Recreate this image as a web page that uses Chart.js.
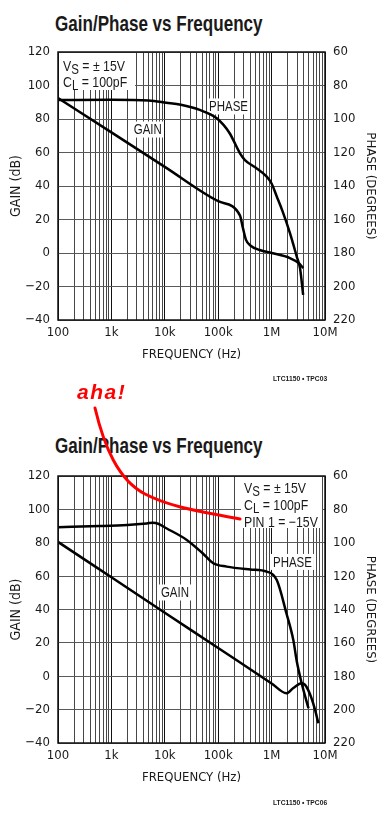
<!DOCTYPE html>
<html>
<head>
<meta charset="utf-8">
<script src="https://cdn.jsdelivr.net/npm/chart.js@4/dist/chart.umd.min.js"></script>
<style>
  html, body { margin: 0; padding: 0; background: #fff; }
  body { width: 385px; height: 816px; position: relative; overflow: hidden;
         font-family: "Liberation Sans", Arial, sans-serif; color: #1a1a1a; }
  canvas { position: absolute; left: 0; }
  .narrow { display: inline-block; transform-origin: 0 0; white-space: nowrap; }
  .title { position: absolute; left: 55px; font-weight: bold; font-size: 22px; line-height: 22px; transform: scaleX(0.775); }
  .box { position: absolute; background: #fff; }
  .box .narrow { font-size: 15px; transform: scaleX(0.82); }
  .box sub { font-size: 14px; vertical-align: -3px; line-height: 0; }
  .foot { position: absolute; left: 273px; font-weight: bold; font-size: 8px; line-height: 8px; transform: scaleX(0.84); }
  #aha { position: absolute; left: 77px; top: 381px; color: #f00; font: italic bold 21px/21px "Liberation Sans", Arial, sans-serif; letter-spacing: 1.5px; }
  svg { position: absolute; left: 0; top: 0; }
</style>
</head>
<body>
<div class="title narrow" style="top:13px">Gain/Phase vs Frequency</div>
<canvas id="top" width="385" height="390" style="top:0"></canvas>
<div class="box" style="left:59px; top:53px; width:76px; height:37px;">
  <div class="narrow" style="margin:5px 0 0 4px; line-height:15.5px;">V<sub>S</sub> = ± 15V<br>C<sub>L</sub> = 100pF</div>
</div>
<div class="foot narrow" style="top:375px">LTC1150 • TPC03</div>

<div class="title narrow" style="top:435px">Gain/Phase vs Frequency</div>
<canvas id="bottom" width="385" height="416" style="top:400px"></canvas>
<div class="box" style="left:241px; top:477px; width:81px; height:51px;">
  <div class="narrow" style="margin:2px 0 0 3px; line-height:17px;">V<sub>S</sub> = ± 15V<br>C<sub>L</sub> = 100pF<br>PIN 1 = −15V</div>
</div>
<div class="foot narrow" style="top:799px">LTC1150 • TPC06</div>

<div id="aha">aha!</div>
<svg width="385" height="816">
  <path d="M95,408 C104,446 118,480 145,494 S205,512 240,519" fill="none" stroke="#f00" stroke-width="3" stroke-linecap="round"/>
</svg>

<script>
// frequency axis
const decades = [100, 1e3, 1e4, 1e5, 1e6, 1e7];
const freqTickLabels = ['100', '1k', '10k', '100k', '1M', '10M'];
const gainTicks = [-40, -20, 0, 20, 40, 60, 80, 100, 120];
const phaseTicks = [60, 80, 100, 120, 140, 160, 180, 200, 220];

// top chart (TPC03)
const topGainFreq = [100, 1e3, 1e4, 1e5, 2.55e5, 2.9e5, 3.3e5, 4e5, 6e5, 1e6, 2.2e6, 3.2e6, 3.9e6];
const topGain     = [92.5, 72, 51.4, 30.9, 22.5, 15, 8, 4.5, 1.8, 0, -3, -6, -9];
const topPhaseFreq = [100, 1e3, 5e3, 1.07e4, 2e4, 4.5e4, 9.4e4, 1.64e5, 1.91e5, 2.56e5, 3.17e5, 5e5, 8.1e5, 1e6, 1.24e6, 1.6e6, 2.2e6, 2.95e6, 3.4e6, 3.9e6];
const topPhase     = [88.7, 88.5, 89, 90.3, 91.5, 94.6, 99.6, 108.5, 112.5, 120.5, 124.5, 129, 134.4, 138.5, 146, 155, 168, 182, 189, 205];

// bottom chart (TPC06, pin 1 = -15V)
const botGainFreq = [100, 1e3, 1e4, 1e5, 1e6, 1.9e6, 2.55e6, 3.66e6, 4.2e6, 4.8e6, 5.5e6, 6.5e6, 7.5e6];
const botGain     = [80.5, 59.3, 38.1, 16.9, -4.3, -10.2, -7, -4.2, -5, -8, -12.5, -20, -28.2];
const botPhaseFreq = [100, 600, 2e3, 4.6e3, 6e3, 7.5e3, 1.07e4, 2.58e4, 5e4, 8.1e4, 1.44e5, 4e5, 8.1e5, 1.25e6, 1.9e6, 2.55e6, 2.96e6, 3.66e6, 4.9e6];
const botPhase     = [90.7, 90, 89.3, 88.4, 88, 88.6, 91.3, 98.3, 106, 112.3, 114.3, 116, 117.3, 122.3, 142.4, 158.3, 171, 184.2, 199.2];

const FONT = '"DejaVu Sans Condensed", "Liberation Sans", sans-serif';
const INK = '#1a1a1a';

// every 1..9 step per decade for the grid
const gridFreqs = [];
decades.slice(0, -1).forEach(d => { for (let m = 1; m < 10; m++) gridFreqs.push(d * m); });
gridFreqs.push(1e7);

const pts = (xs, ys) => xs.map((x, i) => ({x, y: ys[i]}));
const minus = v => v < 0 ? '\u2212' + Math.abs(v) : String(v);

const framePlugin = {
  id: 'frame',
  beforeDatasetsDraw(chart, args, opts) {
    const ctx = chart.ctx, xs = chart.scales.x, ys = chart.scales.y;
    ctx.save();
    ctx.font = '14px "Liberation Sans", Arial, sans-serif';
    ctx.textAlign = 'center';
    ctx.textBaseline = 'middle';
    opts.labels.forEach(l => {
      const px = xs.getPixelForValue(l.f), py = ys.getPixelForValue(l.db);
      const w = ctx.measureText(l.text).width * 0.82;
      ctx.fillStyle = '#fff';
      ctx.fillRect(px - w / 2 - 2, py - 8, w + 4, 16);
      ctx.save();
      ctx.translate(px, py + 1);
      ctx.scale(0.82, 1);
      ctx.fillStyle = INK;
      ctx.fillText(l.text, 0, 0);
      ctx.restore();
    });
    ctx.restore();
  },
  afterDraw(chart) {
    const ctx = chart.ctx, a = chart.chartArea;
    ctx.save();
    ctx.strokeStyle = '#111';
    ctx.lineWidth = 1.5;
    ctx.strokeRect(a.left, a.top, a.right - a.left, a.bottom - a.top);
    ctx.restore();
  }
};

function makeChart(id, gain, phase, labels, padTop, padBottom) {
  const line = {borderColor: '#000', borderWidth: 2.5, pointRadius: 0, cubicInterpolationMode: 'monotone', fill: false};
  return new Chart(document.getElementById(id), {
    type: 'line',
    data: {datasets: [
      Object.assign({label: 'GAIN', data: gain, yAxisID: 'y'}, line),
      Object.assign({label: 'PHASE', data: phase, yAxisID: 'y2'}, line)
    ]},
    plugins: [framePlugin],
    options: {
      responsive: false,
      animation: false,
      events: [],
      layout: {padding: {top: padTop, bottom: padBottom, left: 0, right: 0}},
      plugins: {legend: {display: false}, tooltip: {enabled: false}, frame: {labels}},
      scales: {
        x: {
          type: 'logarithmic', min: 100, max: 1e7,
          afterBuildTicks: s => { s.ticks = gridFreqs.map(v => ({value: v})); },
          afterFit: s => { s.height = 45; },
          ticks: {
            autoSkip: false, maxRotation: 0, padding: 5, color: INK,
            font: {family: FONT, size: 13},
            callback: v => { const i = decades.indexOf(v); return i < 0 ? '' : freqTickLabels[i]; }
          },
          grid: {color: c => decades.includes(c.tick.value) ? '#111' : '#474747', lineWidth: 1, drawTicks: false},
          border: {display: false},
          title: {display: true, text: 'FREQUENCY (Hz)', color: INK, font: {family: FONT, size: 13}, padding: {top: 0, bottom: 3}}
        },
        y: {
          position: 'left', min: -40, max: 120,
          afterBuildTicks: s => { s.ticks = gainTicks.map(v => ({value: v})); },
          afterFit: s => { s.width = 58; },
          ticks: {padding: 8, color: INK, font: {family: FONT, size: 13}, callback: minus},
          grid: {color: '#5a5a5a', lineWidth: 1, drawTicks: false},
          border: {display: false},
          title: {display: true, text: 'GAIN (dB)', color: INK, font: {family: FONT, size: 14}, padding: {top: 8, bottom: 0}}
        },
        y2: {
          position: 'right', min: 60, max: 220, reverse: true,
          afterBuildTicks: s => { s.ticks = phaseTicks.map(v => ({value: v})); },
          afterFit: s => { s.width = 60; },
          ticks: {padding: 8, color: INK, font: {family: FONT, size: 13}},
          grid: {drawOnChartArea: false, drawTicks: false},
          border: {display: false},
          title: {display: true, text: 'PHASE (DEGREES)', color: INK, font: {family: FONT, size: 13}, padding: {top: 7, bottom: 0}}
        }
      }
    }
  });
}

makeChart('top', pts(topGainFreq, topGain), pts(topPhaseFreq, topPhase),
  [{text: 'PHASE', f: 1.56e5, db: 87.5}, {text: 'GAIN', f: 4.8e3, db: 73.7}], 52, 25);
makeChart('bottom', pts(botGainFreq, botGain), pts(botPhaseFreq, botPhase),
  [{text: 'PHASE', f: 2.46e6, db: 68.5}, {text: 'GAIN', f: 1.55e4, db: 50.2}], 76, 28);
</script>
</body>
</html>
